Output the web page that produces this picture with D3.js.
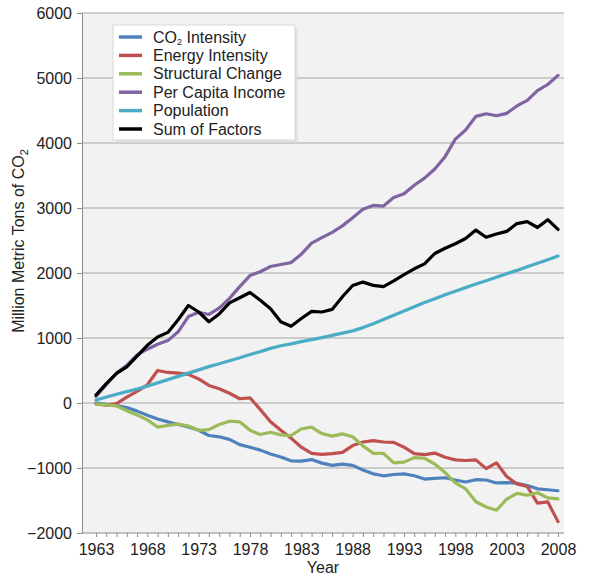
<!DOCTYPE html>
<html>
<head>
<meta charset="utf-8">
<script src="https://cdn.jsdelivr.net/npm/d3@7"></script>
<style>
body{margin:0;background:#fff;}
text{font-family:"Liberation Sans",Arial,sans-serif;}
</style>
</head>
<body>
<svg id="chart" width="600" height="580"></svg>
<script>
const years = d3.range(1963, 2009);
const co2Intensity = [0,-20,-40,-70,-125,-190,-245,-290,-330,-370,-420,-500,-520,-560,-640,-680,-725,-785,-830,-890,-895,-870,-925,-960,-940,-960,-1030,-1090,-1120,-1100,-1090,-1120,-1170,-1160,-1150,-1185,-1215,-1180,-1185,-1230,-1225,-1235,-1270,-1320,-1335,-1350];
const energyIntensity = [-15,-35,-10,90,180,280,500,470,460,440,370,270,220,150,65,80,-100,-290,-420,-540,-680,-775,-790,-780,-760,-655,-600,-580,-600,-605,-680,-780,-795,-770,-835,-875,-885,-875,-1010,-920,-1130,-1245,-1285,-1540,-1520,-1825];
const structuralChange = [-15,-30,-45,-120,-185,-260,-370,-345,-325,-355,-420,-410,-330,-280,-290,-420,-485,-450,-490,-500,-400,-370,-470,-510,-475,-520,-660,-774,-774,-920,-910,-840,-850,-940,-1070,-1230,-1320,-1520,-1600,-1650,-1480,-1390,-1420,-1380,-1460,-1475];
const perCapitaIncome = [100,280,460,580,740,828,903,960,1095,1330,1395,1362,1460,1610,1790,1960,2020,2100,2130,2160,2290,2460,2545,2625,2725,2850,2980,3040,3030,3160,3220,3350,3460,3600,3790,4060,4200,4410,4450,4420,4456,4570,4655,4805,4900,5040];
const population = [46,90,135,175,215,260,310,360,410,460,510,560,605,650,695,745,790,840,880,910,945,975,1005,1040,1075,1110,1160,1220,1285,1350,1415,1480,1545,1605,1665,1720,1775,1830,1880,1935,1990,2040,2095,2150,2205,2260];
const sumOfFactors = [123,297,455,557,720,888,1016,1086,1280,1500,1400,1250,1370,1540,1620,1700,1580,1450,1250,1180,1300,1410,1400,1440,1635,1808,1860,1810,1790,1880,1975,2065,2140,2300,2380,2450,2530,2660,2550,2600,2640,2760,2790,2700,2820,2670];
const seriesNames = ["CO2 Intensity","Energy Intensity","Structural Change","Per Capita Income","Population","Sum of Factors"];
const seriesColors = ["#4F81BD","#C0504D","#9BBB59","#8064A2","#4BACC6","#000000"];
const yTicks = [-2000,-1000,0,1000,2000,3000,4000,5000,6000];
const xTickLabels = [1963,1968,1973,1978,1983,1988,1993,1998,2003,2008];

const seriesData = [co2Intensity, energyIntensity, structuralChange, perCapitaIncome, population, sumOfFactors];

const svg = d3.select("#chart");
const plotL = 82, plotR = 564, plotT = 13, plotB = 533;
const x = d3.scaleLinear().domain([1963, 2008]).range([96, 558]);
const y = d3.scaleLinear().domain([-2000, 6000]).range([plotB, plotT]);

svg.append("rect").attr("x",0).attr("y",0).attr("width",600).attr("height",580).attr("fill","#fff");
svg.append("rect").attr("x",plotL).attr("y",plotT).attr("width",plotR-plotL).attr("height",plotB-plotT).attr("fill","#f2f2f2");

// gridlines
svg.append("g").selectAll("line").data(yTicks.filter(d=>d>-2000)).join("line")
  .attr("x1",plotL).attr("x2",plotR).attr("y1",d=>y(d)).attr("y2",d=>y(d))
  .attr("stroke","#a6a6a6").attr("stroke-width",1.2);

// y axis
const yAxis = d3.axisLeft(y).tickValues(yTicks).tickSize(5).tickPadding(5).tickFormat(d3.format("d"));
const gy = svg.append("g").attr("transform",`translate(${plotL},0)`).call(yAxis);
gy.select(".domain").attr("stroke","#8c8c8c");
gy.selectAll(".tick line").attr("stroke","#8c8c8c");
gy.selectAll("text").attr("font-size",16).attr("fill","#222").attr("font-family","Liberation Sans, Arial, sans-serif");

// x axis
const gx = svg.append("g").attr("transform",`translate(0,${plotB})`);
gx.append("line").attr("x1",plotL).attr("x2",plotR).attr("y1",0).attr("y2",0).attr("stroke","#8c8c8c");
const xAxis = d3.axisBottom(x).tickValues(years).tickSize(4).tickFormat(d => xTickLabels.includes(d) ? d : "");
const gxa = gx.append("g").call(xAxis);
gxa.select(".domain").remove();
gxa.selectAll(".tick line").attr("stroke","#8c8c8c");
gxa.selectAll("text").attr("font-size",16).attr("fill","#222").attr("dy","0.95em").attr("font-family","Liberation Sans, Arial, sans-serif");

// axis titles
svg.append("text").attr("x",323).attr("y",573).attr("text-anchor","middle").attr("font-size",16).attr("fill","#222").text("Year");
const yt = svg.append("text").attr("transform","translate(24,241) rotate(-90)").attr("text-anchor","middle").attr("font-size",16).attr("fill","#222");
yt.append("tspan").text("Million Metric Tons of CO");
yt.append("tspan").attr("font-size",11).attr("dy",4).text("2");

// lines
const line = d3.line().x((d,i)=>x(years[i])).y(d=>y(d));
seriesData.forEach((s,k)=>{
  svg.append("path").datum(s).attr("d",line).attr("fill","none")
    .attr("stroke",seriesColors[k]).attr("stroke-width",3.2).attr("stroke-linejoin","round").attr("stroke-linecap","round");
});

// legend
const lg = svg.append("g");
lg.append("rect").attr("x",116).attr("y",28).attr("width",182).attr("height",115).attr("fill","#d8d8d8").attr("opacity",0.6);
lg.append("rect").attr("x",113).attr("y",25).attr("width",182).attr("height",115).attr("fill","#fff").attr("stroke","#d0d0d0").attr("stroke-width",0.8);
seriesNames.forEach((n,i)=>{
  const cy = 37 + i*18.4;
  lg.append("line").attr("x1",119).attr("x2",142).attr("y1",cy).attr("y2",cy).attr("stroke",seriesColors[i]).attr("stroke-width",3.5);
  const t = lg.append("text").attr("x",153).attr("y",cy+5.5).attr("font-size",16).attr("fill","#222");
  if (n.startsWith("CO2")) {
    t.append("tspan").text("CO");
    t.append("tspan").attr("font-size",9).attr("dy",2.5).text("2");
    t.append("tspan").attr("dy",-2.5).text(" Intensity");
  } else t.text(n);
});
</script>
</body>
</html>
